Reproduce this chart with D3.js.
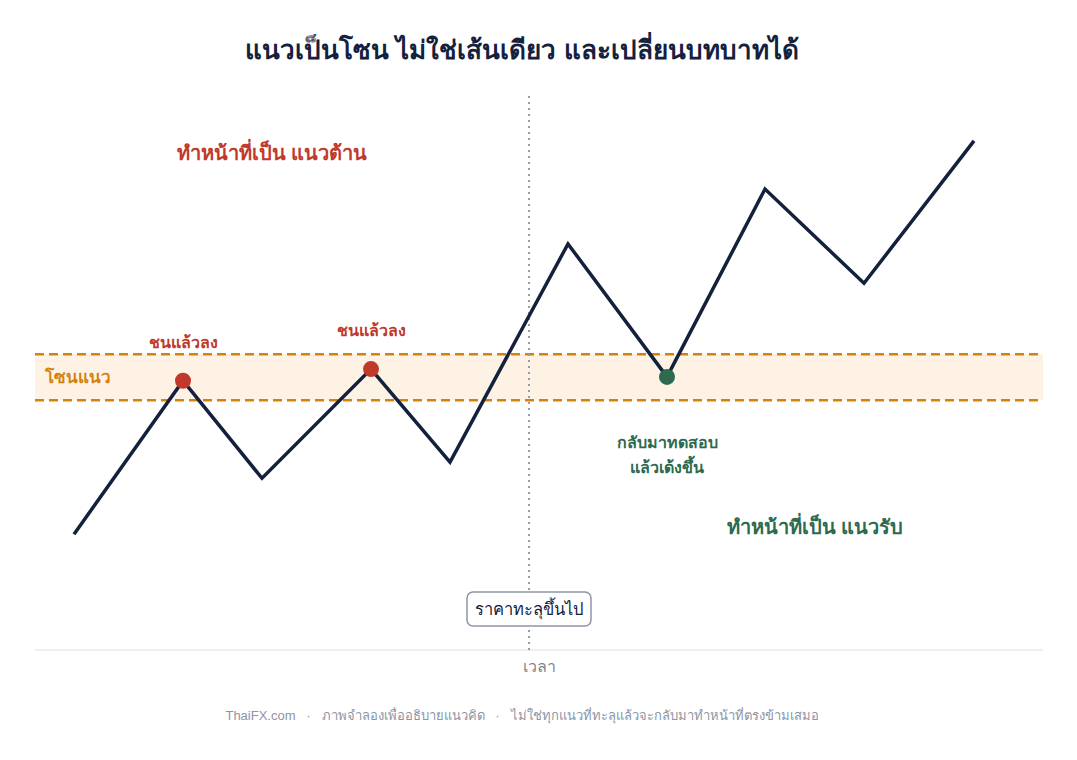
<!DOCTYPE html>
<html><head><meta charset="utf-8">
<script src="https://cdn.jsdelivr.net/npm/d3@7"></script>
<style>
html,body{margin:0;padding:0;background:#fff;}
svg{display:block;font-family:"Liberation Sans",Arial,sans-serif;}
</style></head>
<body><svg id="c" width="1077" height="760"></svg>
<script>
// ---- data ----
const times  = [0, 1.09, 1.88, 2.97, 3.76, 4.94, 5.93, 6.91, 7.9, 9.0];
const prices = [20.9, 48.6, 31.0, 50.7, 33.9, 73.3, 49.3, 83.2, 66.2, 91.9];
const zone = [45.1, 53.4];
const breakoutTime = 4.55;
const touchIdx = [1, 3];
const retestIdx = [6];
const title = "แนวเป็นโซน ไม่ใช่เส้นเดียว และเปลี่ยนบทบาทได้";
const footer = "ThaiFX.com   ·   ภาพจำลองเพื่ออธิบายแนวคิด   ·   ไม่ใช่ทุกแนวที่ทะลุแล้วจะกลับมาทำหน้าที่ตรงข้ามเสมอ";

const svg = d3.select("#c");
const x = d3.scaleLinear().domain([0, 9]).range([74, 974]);
const y = d3.scaleLinear().domain([0, 100]).range([650, 96]);
const left = 35, right = 1043;
const navy = "#14213d", red = "#c0392b", green = "#2d6a4f", orange = "#d4820f";

// title
svg.append("text").attr("x", 522).attr("y", 59).attr("text-anchor", "middle")
  .attr("font-size", 26).attr("font-weight", 700).attr("fill", navy).text(title);

// zone
svg.append("rect").attr("x", left).attr("width", right - left)
  .attr("y", y(zone[1])).attr("height", y(zone[0]) - y(zone[1])).attr("fill", "#fdf2e4");
zone.forEach(v => svg.append("line").attr("x1", left).attr("x2", right)
  .attr("y1", y(v)).attr("y2", y(v)).attr("stroke", orange).attr("stroke-width", 2.5)
  .attr("stroke-dasharray", "9,5"));
svg.append("text").attr("x", 45).attr("y", y((zone[0] + zone[1]) / 2) + 6)
  .attr("font-size", 17).attr("font-weight", 700).attr("fill", orange).text("โซนแนว");

// axis line
svg.append("line").attr("x1", left).attr("x2", right).attr("y1", y(0)).attr("y2", y(0))
  .attr("stroke", "#dddfe3").attr("stroke-width", 1);
svg.append("text").attr("x", 539).attr("y", 672).attr("text-anchor", "middle")
  .attr("font-size", 16).attr("fill", "#7d8493").text("เวลา");

// breakout line
svg.append("line").attr("x1", x(breakoutTime)).attr("x2", x(breakoutTime))
  .attr("y1", y(100)).attr("y2", y(0)).attr("stroke", "#959dab").attr("stroke-width", 2)
  .attr("stroke-dasharray", "2,4");

// price line
const pts = times.map((t, i) => [t, prices[i]]);
svg.append("path").datum(pts)
  .attr("d", d3.line().x(d => x(d[0])).y(d => y(d[1])))
  .attr("fill", "none").attr("stroke", navy).attr("stroke-width", 3.5).attr("stroke-linejoin", "miter");

// dots
touchIdx.forEach(i => svg.append("circle").attr("cx", x(times[i])).attr("cy", y(prices[i]))
  .attr("r", 8).attr("fill", red));
retestIdx.forEach(i => svg.append("circle").attr("cx", x(times[i])).attr("cy", y(prices[i]))
  .attr("r", 8).attr("fill", green));

// touch labels
touchIdx.forEach(i => svg.append("text").attr("x", x(times[i])).attr("y", y(prices[i]) - 33)
  .attr("text-anchor", "middle").attr("font-size", 16).attr("font-weight", 700)
  .attr("fill", red).text("ชนแล้วลง"));

// retest label
const rx = x(times[retestIdx[0]]);
svg.append("text").attr("x", rx).attr("y", 448).attr("text-anchor", "middle")
  .attr("font-size", 16).attr("font-weight", 700).attr("fill", green).text("กลับมาทดสอบ");
svg.append("text").attr("x", rx).attr("y", 473).attr("text-anchor", "middle")
  .attr("font-size", 16).attr("font-weight", 700).attr("fill", green).text("แล้วเด้งขึ้น");

// role labels
svg.append("text").attr("x", 272).attr("y", 160).attr("text-anchor", "middle")
  .attr("font-size", 20).attr("font-weight", 700).attr("fill", red).text("ทำหน้าที่เป็น แนวต้าน");
svg.append("text").attr("x", 815).attr("y", 534).attr("text-anchor", "middle")
  .attr("font-size", 20).attr("font-weight", 700).attr("fill", green).text("ทำหน้าที่เป็น แนวรับ");

// breakout box
const bx = x(breakoutTime);
const g = svg.append("g");
const bt = g.append("text").attr("x", bx).attr("y", 615).attr("text-anchor", "middle")
  .attr("font-size", 16.5).attr("fill", navy).text("ราคาทะลุขึ้นไป");
const bb = bt.node().getBBox();
g.insert("rect", "text").attr("x", bb.x - 8).attr("y", 592).attr("width", bb.width + 16)
  .attr("height", 34).attr("rx", 6).attr("fill", "#fff").attr("stroke", "#8d95a5").attr("stroke-width", 1.5);

// footer
svg.append("text").attr("x", 522).attr("y", 720).attr("text-anchor", "middle")
  .attr("font-size", 13).attr("fill", "#8d95a5").style("white-space", "pre").text(footer);
</script></body></html>
